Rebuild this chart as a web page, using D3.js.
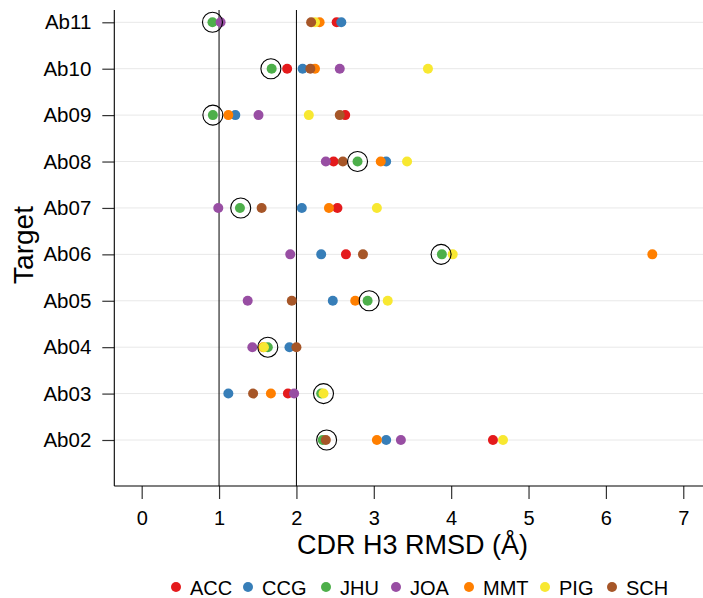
<!DOCTYPE html>
<html>
<head>
<meta charset="utf-8">
<script src="https://cdn.jsdelivr.net/npm/d3@7"></script>
<style>
  body { margin: 0; background: #fff; }
  svg text { font-family: "Liberation Sans", Arial, Helvetica, sans-serif; fill: #000; }
</style>
</head>
<body>
<div id="chart"></div>
<script>
// targets, bottom to top
const targets = ["Ab02", "Ab03", "Ab04", "Ab05", "Ab06", "Ab07", "Ab08", "Ab09", "Ab10", "Ab11"];
const groups = ["ACC", "CCG", "JHU", "JOA", "MMT", "PIG", "SCH"];
const groupColors = ["#e41a1c", "#377eb8", "#4daf4a", "#984ea3", "#ff7f00", "#f8e831", "#a65628"];

// CDR H3 RMSD per group, same order as targets (null = not visible)
const accValues = [4.54, 1.89, null, null, 2.64, 2.53, 2.48, 2.63, 1.88, 2.52];
const ccgValues = [3.16, 1.12, 1.91, 2.47, 2.32, 2.07, 3.16, 1.21, 2.08, 2.58];
const jhuValues = [2.34, 2.32, 1.63, 2.92, 3.88, 1.27, 2.79, 0.92, 1.68, 0.915];
const joaValues = [3.35, 1.97, 1.43, 1.37, 1.92, 0.99, 2.38, 1.51, 2.56, 1.02];
const mmtValues = [3.04, 1.67, 1.57, 2.76, 6.60, 2.42, 3.09, 1.12, 2.24, 2.30];
const pigValues = [4.67, 2.35, 1.58, 3.18, 4.02, 3.04, 3.43, 2.16, 3.70, 2.24];
const schValues = [2.38, 1.44, 2.00, 1.94, 2.86, 1.55, 2.60, 2.56, 2.18, 2.19];

// circled value per target
const circledValues = [2.39, 2.35, 1.63, 2.94, 3.87, 1.28, 2.79, 0.92, 1.67, 0.915];

const xTicks = [0, 1, 2, 3, 4, 5, 6, 7];
const refLines = [1, 2];

const seriesValues = [accValues, ccgValues, jhuValues, joaValues, mmtValues, pigValues, schValues];

const width = 703, height = 598;
const plotLeft = 114.3, plotRight = 703, plotTop = 10, plotBottom = 486;

const svg = d3.select("#chart").append("svg")
  .attr("width", width)
  .attr("height", height);

const x = d3.scaleLinear()
  .domain([-0.354, 7.255])
  .range([plotLeft, plotRight]);

const y = d3.scalePoint()
  .domain(targets)
  .range([440, 22.3]);

const color = d3.scaleOrdinal().domain(groups).range(groupColors);

// horizontal grid lines
svg.append("g")
  .selectAll("line")
  .data(targets)
  .join("line")
  .attr("x1", plotLeft)
  .attr("x2", plotRight)
  .attr("y1", d => y(d))
  .attr("y2", d => y(d))
  .attr("stroke", "#e8e8e8")
  .attr("stroke-width", 1);

// reference lines at 1 and 2 A
svg.append("g")
  .selectAll("line")
  .data(refLines)
  .join("line")
  .attr("x1", d => x(d))
  .attr("x2", d => x(d))
  .attr("y1", plotTop)
  .attr("y2", plotBottom)
  .attr("stroke", "#000")
  .attr("stroke-width", 1);

// points
const points = [];
groups.forEach((g, gi) => {
  seriesValues[gi].forEach((v, ti) => {
    if (v != null) points.push({ group: g, target: targets[ti], value: v });
  });
});

svg.append("g")
  .selectAll("circle")
  .data(points)
  .join("circle")
  .attr("cx", d => x(d.value))
  .attr("cy", d => y(d.target))
  .attr("r", 5)
  .attr("fill", d => color(d.group));

// circles around highlighted points
svg.append("g")
  .selectAll("circle")
  .data(targets)
  .join("circle")
  .attr("cx", (d, i) => x(circledValues[i]))
  .attr("cy", d => y(d))
  .attr("r", 10)
  .attr("fill", "none")
  .attr("stroke", "#000")
  .attr("stroke-width", 1.1);

// y axis
const yAxis = svg.append("g")
  .attr("transform", `translate(${plotLeft},0)`)
  .call(d3.axisLeft(y).tickSize(12).tickSizeOuter(0).tickPadding(11));
yAxis.select(".domain").remove();
yAxis.selectAll(".tick line").attr("stroke", "#333").attr("stroke-width", 1.2);
yAxis.selectAll(".tick text")
  .attr("font-size", 20.5)
  .attr("font-family", "Liberation Sans, Arial, sans-serif")
  .attr("fill", "#000");
svg.append("line")
  .attr("x1", plotLeft).attr("x2", plotLeft)
  .attr("y1", plotTop).attr("y2", plotBottom)
  .attr("stroke", "#000").attr("stroke-width", 1.1);

// x axis
const xAxis = svg.append("g")
  .attr("transform", `translate(0,${plotBottom})`)
  .call(d3.axisBottom(x).tickValues(xTicks).tickFormat(d3.format("d")).tickSize(13).tickSizeOuter(0).tickPadding(12));
xAxis.select(".domain").remove();
xAxis.selectAll(".tick line").attr("stroke", "#333").attr("stroke-width", 1.2);
xAxis.selectAll(".tick text")
  .attr("font-size", 20)
  .attr("font-family", "Liberation Sans, Arial, sans-serif")
  .attr("fill", "#000");
svg.append("line")
  .attr("x1", plotLeft).attr("x2", plotRight)
  .attr("y1", plotBottom).attr("y2", plotBottom)
  .attr("stroke", "#000").attr("stroke-width", 1.1);

// axis titles
svg.append("text")
  .attr("x", (x(0) + x(7)) / 2)
  .attr("y", 554)
  .attr("text-anchor", "middle")
  .attr("font-size", 27)
  .text("CDR H3 RMSD (Å)");

svg.append("text")
  .attr("transform", `translate(33,${(plotTop + plotBottom) / 2 - 3}) rotate(-90)`)
  .attr("text-anchor", "middle")
  .attr("font-size", 28)
  .text("Target");

// legend
const legendX = [176, 248, 326, 396, 469, 545, 612];
const legend = svg.append("g")
  .selectAll("g")
  .data(groups)
  .join("g")
  .attr("transform", (d, i) => `translate(${legendX[i]},587)`);
legend.append("circle")
  .attr("r", 5)
  .attr("fill", d => color(d));
legend.append("text")
  .attr("x", 14)
  .attr("y", 7.5)
  .attr("font-size", 20)
  .text(d => d);
</script>
</body>
</html>
